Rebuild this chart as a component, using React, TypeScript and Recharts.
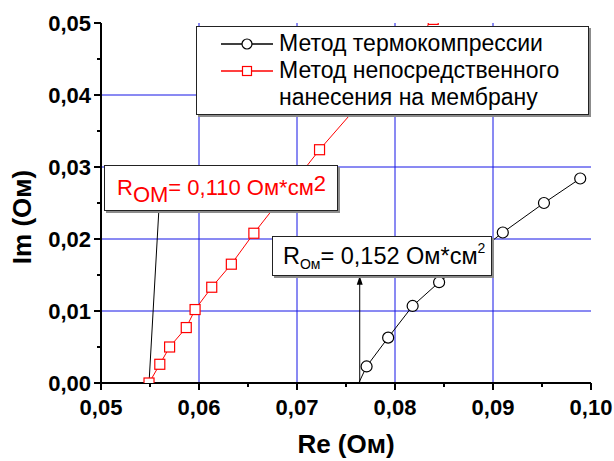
import React from 'react';
import { LineChart, Line, XAxis, YAxis, CartesianGrid, ReferenceLine, Label } from 'recharts';

// ---------------------------------------------------------------------------
// Data
// ---------------------------------------------------------------------------

const THERMO_RE = [0.0763, 0.0771, 0.0793, 0.0818, 0.0845, 0.091, 0.0952, 0.0989];
const THERMO_IM = [0.0, 0.0023, 0.0063, 0.0107, 0.014, 0.0209, 0.025, 0.0284];

const DIRECT_RE = [0.0549, 0.056, 0.057, 0.0587, 0.0596, 0.0613, 0.0633, 0.0656, 0.0723, 0.0839];
const DIRECT_IM = [0.0, 0.0026, 0.005, 0.0077, 0.0102, 0.0133, 0.0165, 0.0208, 0.0324, 0.0505];

const X_TICKS = [0.05, 0.055, 0.06, 0.065, 0.07, 0.075, 0.08, 0.085, 0.09, 0.095, 0.1];
const Y_TICKS = [0, 0.005, 0.01, 0.015, 0.02, 0.025, 0.03, 0.035, 0.04, 0.045, 0.05];
const X_GRID = [0.06, 0.07, 0.08, 0.09];
const Y_GRID = [0.01, 0.02, 0.03, 0.04];

const DIRECT_LEADER = [{ x: 0.0549, y: 0 }, { x: 0.0559, y: 0.0239 }];
const THERMO_ARROW = [{ x: 0.0764, y: 0 }, { x: 0.0764, y: 0.0149 }];

const LEGEND_THERMO = 'Метод термокомпрессии';
const LEGEND_DIRECT = ['Метод непосредственного', 'нанесения на мембрану'];

const thermoData = THERMO_RE.map((re, i) => ({ re, im: THERMO_IM[i] }));
const directData = DIRECT_RE.map((re, i) => ({ re, im: DIRECT_IM[i] }));

// ---------------------------------------------------------------------------
// Helpers
// ---------------------------------------------------------------------------

const FONT = '"Liberation Sans", Arial, sans-serif';
const RED = '#ff0000';
const GRID_BLUE = '#1414e6';

const isMajor = (v: number) => Math.round(v * 1000) % 10 === 0;
const fmt = (v: number) => v.toFixed(2).replace('.', ',');

function BottomTick({ x, y, payload }: any) {
  const major = isMajor(payload.value);
  return (
    <g>
      <line x1={x} x2={x} y1={y} y2={y + (major ? 7 : 4)} stroke="#000" strokeWidth={2} />
      {major && (
        <text x={x} y={y + 32} textAnchor="middle" fontFamily={FONT} fontSize={22} fontWeight="bold" fill="#000">
          {fmt(payload.value)}
        </text>
      )}
    </g>
  );
}

function LeftTick({ x, y, payload }: any) {
  const major = isMajor(payload.value);
  return (
    <g>
      <line x1={x} x2={x - (major ? 7 : 4)} y1={y} y2={y} stroke="#000" strokeWidth={2} />
      {major && (
        <text x={x - 10} y={y + 8} textAnchor="end" fontFamily={FONT} fontSize={22} fontWeight="bold" fill="#000">
          {fmt(payload.value)}
        </text>
      )}
    </g>
  );
}

function TopTick({ x, y, payload }: any) {
  const major = isMajor(payload.value);
  return <line x1={x} x2={x} y1={y} y2={y + (major ? 6 : 4)} stroke="#000" strokeWidth={2} />;
}

function RightTick({ x, y, payload }: any) {
  const major = isMajor(payload.value);
  return <line x1={x} x2={x - (major ? 6 : 4)} y1={y} y2={y} stroke="#000" strokeWidth={2} />;
}

function XTitle({ viewBox }: any) {
  return (
    <text x={viewBox.x + viewBox.width / 2} y={viewBox.y + 70} textAnchor="middle" fontFamily={FONT} fontSize={26} fontWeight="bold" fill="#000">
      Re (Ом)
    </text>
  );
}

function YTitle({ viewBox }: any) {
  const cx = 31;
  const cy = viewBox.y + viewBox.height / 2 + 14;
  return (
    <text x={cx} y={cy} transform={`rotate(-90 ${cx} ${cy})`} textAnchor="middle" fontFamily={FONT} fontSize={26} fontWeight="bold" fill="#000">
      Im (Ом)
    </text>
  );
}

function CircleDot({ cx, cy, index }: any) {
  if (index === 0) return <g key={`c-${index}`} />;
  return <circle key={`c-${index}`} cx={cx} cy={cy} r={5.5} fill="#fff" stroke="#000" strokeWidth={1.2} />;
}

function SquareDot({ cx, cy, index }: any) {
  return <rect key={`s-${index}`} x={cx - 5} y={cy - 5} width={10} height={10} fill="#fff" stroke={RED} strokeWidth={1.2} />;
}

function ArrowShape({ x1, y1, x2, y2 }: any) {
  return (
    <g>
      <line x1={x1} y1={y1} x2={x2} y2={y2 + 6} stroke="#000" strokeWidth={1} />
      <polygon points={`${x2},${y2} ${x2 - 3},${y2 + 9} ${x2 + 3},${y2 + 9}`} fill="#000" />
    </g>
  );
}

const boxStyle: React.CSSProperties = {
  position: 'absolute',
  boxSizing: 'border-box',
  background: '#fff',
  border: '1px solid #222',
  boxShadow: '2px 2px 0 #8c8c8c',
  fontFamily: FONT,
  whiteSpace: 'nowrap',
};

// ---------------------------------------------------------------------------
// Component
// ---------------------------------------------------------------------------

export default function App() {
  return (
    <div style={{ position: 'relative', width: 614, height: 461, background: '#fff' }}>
      <style>{'body{margin:0}'}</style>
      <LineChart width={614} height={461} margin={{ top: 23, right: 23, left: 0, bottom: 0 }}>
        <CartesianGrid stroke={GRID_BLUE} strokeWidth={1} verticalValues={X_GRID} horizontalValues={Y_GRID} />
        <ReferenceLine segment={DIRECT_LEADER} stroke="#000" strokeWidth={1} />
        <ReferenceLine segment={THERMO_ARROW} shape={ArrowShape} />
        <Line data={thermoData} dataKey="im" type="linear" stroke="#000" strokeWidth={1} dot={CircleDot} isAnimationActive={false} />
        <Line data={directData} dataKey="im" type="linear" stroke={RED} strokeWidth={1} dot={SquareDot} isAnimationActive={false} />
        <XAxis
          dataKey="re"
          type="number"
          domain={[0.05, 0.1]}
          ticks={X_TICKS}
          interval={0}
          allowDataOverflow
          height={78}
          tickSize={0}
          tickMargin={0}
          tickLine={false}
          axisLine={{ stroke: '#000', strokeWidth: 2 }}
          tick={BottomTick}
        >
          <Label content={XTitle} />
        </XAxis>
        <XAxis
          xAxisId="top"
          orientation="top"
          type="number"
          domain={[0.05, 0.1]}
          ticks={X_TICKS}
          interval={0}
          allowDataOverflow
          height={0}
          tickSize={0}
          tickMargin={0}
          tickLine={false}
          axisLine={{ stroke: '#000', strokeWidth: 2 }}
          tick={TopTick}
        />
        <YAxis
          type="number"
          domain={[0, 0.05]}
          ticks={Y_TICKS}
          interval={0}
          allowDataOverflow
          width={101}
          tickSize={0}
          tickMargin={0}
          tickLine={false}
          axisLine={{ stroke: '#000', strokeWidth: 2 }}
          tick={LeftTick}
        >
          <Label content={YTitle} />
        </YAxis>
        <YAxis
          yAxisId="right"
          orientation="right"
          type="number"
          domain={[0, 0.05]}
          ticks={Y_TICKS}
          interval={0}
          allowDataOverflow
          width={0}
          tickSize={0}
          tickMargin={0}
          tickLine={false}
          axisLine={{ stroke: '#000', strokeWidth: 2 }}
          tick={RightTick}
        />
      </LineChart>

      {/* Legend */}
      <div style={{ ...boxStyle, left: 196, top: 26, width: 393, height: 89, fontSize: 23, lineHeight: '27px', paddingTop: 3, color: '#000' }}>
        <div style={{ display: 'flex', alignItems: 'center', height: 27 }}>
          <svg width={58} height={27} style={{ marginLeft: 24, flex: 'none' }}>
            <line x1={0} x2={52} y1={14} y2={14} stroke="#000" strokeWidth={1.5} />
            <circle cx={26} cy={14} r={5} fill="#fff" stroke="#000" strokeWidth={1.2} />
          </svg>
          <span>{LEGEND_THERMO}</span>
        </div>
        <div style={{ display: 'flex', alignItems: 'center', height: 27 }}>
          <svg width={58} height={27} style={{ marginLeft: 24, flex: 'none' }}>
            <line x1={0} x2={52} y1={14} y2={14} stroke={RED} strokeWidth={1.5} />
            <rect x={21.5} y={9.5} width={9} height={9} fill="#fff" stroke={RED} strokeWidth={1.2} />
          </svg>
          <span>{LEGEND_DIRECT[0]}</span>
        </div>
        <div style={{ paddingLeft: 82, height: 27 }}>{LEGEND_DIRECT[1]}</div>
      </div>

      {/* Direct-method annotation */}
      <div
        style={{
          ...boxStyle,
          left: 104,
          top: 165,
          width: 234,
          height: 46,
          color: RED,
          fontSize: 22,
          display: 'flex',
          alignItems: 'center',
          paddingLeft: 12,
        }}
      >
        <span>R</span>
        <span style={{ position: 'relative', top: 7 }}>ОМ</span>
        <span>= 0,110 Ом*см</span>
        <span style={{ position: 'relative', top: -4 }}>2</span>
      </div>

      {/* Thermo-method annotation */}
      <div
        style={{
          ...boxStyle,
          left: 272,
          top: 236,
          width: 220,
          height: 40,
          color: '#000',
          fontSize: 23.5,
          display: 'flex',
          alignItems: 'center',
          paddingLeft: 10,
        }}
      >
        <span>R</span>
        <span style={{ position: 'relative', top: 8, fontSize: 14 }}>Ом</span>
        <span>= 0,152 Ом*см</span>
        <span style={{ position: 'relative', top: -8, fontSize: 14 }}>2</span>
      </div>
    </div>
  );
}
